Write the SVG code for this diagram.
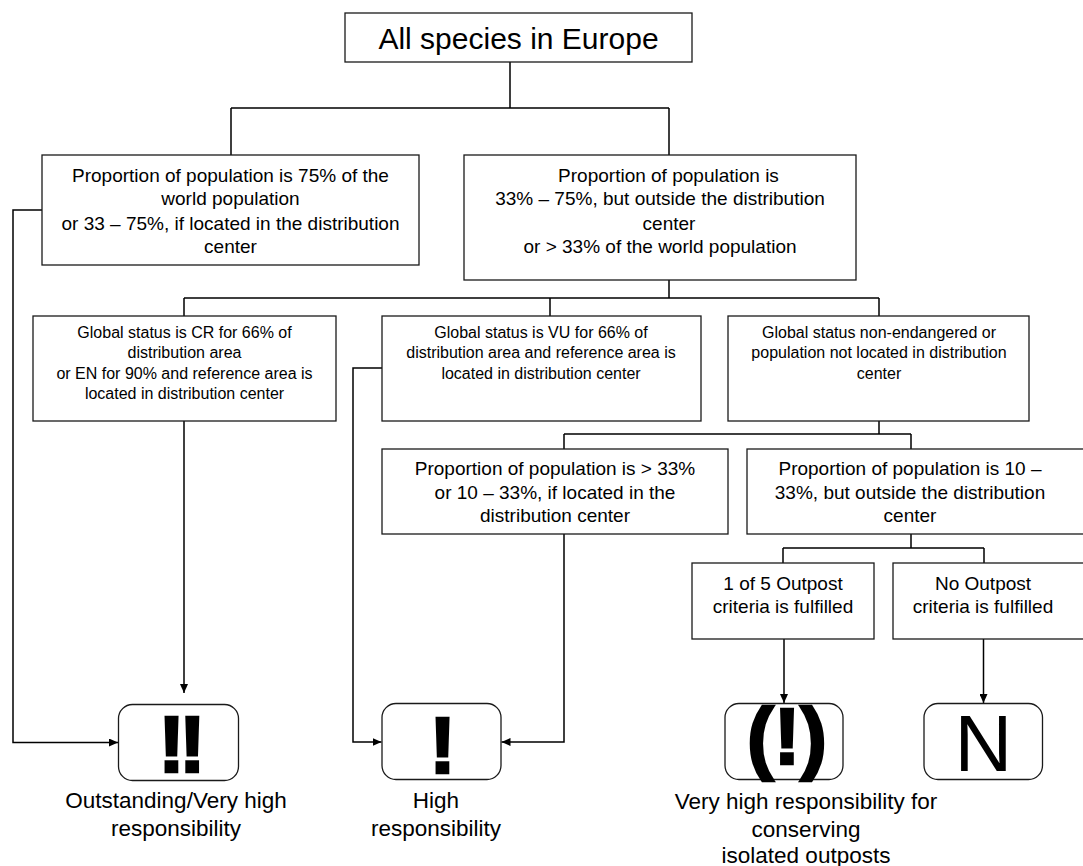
<svg xmlns="http://www.w3.org/2000/svg" width="1083" height="866" viewBox="0 0 1083 866">
<style>
.box{fill:#fff;stroke:#1a1a1a;stroke-width:1.3}
.rbox{fill:#fff;stroke:#1a1a1a;stroke-width:1.3}
.t19{font-family:"Liberation Sans",Arial,sans-serif;font-size:19px;fill:#000;text-anchor:middle}
.t16{font-family:"Liberation Sans",Arial,sans-serif;font-size:16px;fill:#000;text-anchor:middle}
.t30{font-family:"Liberation Sans",Arial,sans-serif;font-size:30px;fill:#000;text-anchor:middle}
.lab{font-family:"Liberation Sans",Arial,sans-serif;font-size:22.5px;fill:#000;text-anchor:middle}
.big{font-family:"Liberation Sans",Arial,sans-serif;font-size:80px;font-weight:bold;fill:#000;stroke:#000;stroke-width:2.5;text-anchor:middle}
.bigN{font-family:"Liberation Sans",Arial,sans-serif;font-size:80px;fill:#000;text-anchor:middle}
.c{fill:none;stroke:#000;stroke-width:1.5}
</style>
<defs>
<marker id="ah" markerWidth="10" markerHeight="8" refX="9" refY="4" orient="auto" markerUnits="userSpaceOnUse">
<path d="M0,0 L9,4 L0,8 Z" fill="#000"/>
</marker>
</defs>

<g id="connectors">
<path class="c" d="M510,62 V108 M231,108 H669 M231,108 V155 M669,108 V155"/>
<path class="c" d="M669,280 V298 M184,298 H879 M184,298 V316 M550,298 V316 M879,298 V316"/>
<path class="c" d="M879,421 V434 M564,434 H911 M564,434 V449 M911,434 V449"/>
<path class="c" d="M911,534 V548 M783,548 H984 M783,548 V563 M984,548 V563"/>
<path class="c" d="M42,210 H13 V742.5 H118" marker-end="url(#ah)"/>
<path class="c" d="M184,421 V693" marker-end="url(#ah)"/>
<path class="c" d="M382,368 H353 V742 H381.5" marker-end="url(#ah)"/>
<path class="c" d="M564,534 V742 H501.5" marker-end="url(#ah)"/>
<path class="c" d="M784,639 V703" marker-end="url(#ah)"/>
<path class="c" d="M983.5,639 V703" marker-end="url(#ah)"/>
</g>

<g id="n-top">
<rect class="box" x="345" y="13" width="347" height="49"/>
<text class="t30" x="518.5" y="49">All species in Europe</text>
</g>

<g id="n-l1">
<rect class="box" x="42" y="155" width="377" height="110"/>
<text class="t19" x="230.5" y="182">Proportion of population is 75% of the</text>
<text class="t19" x="230.5" y="205">world population</text>
<text class="t19" x="230.5" y="230">or 33 – 75%, if located in the distribution</text>
<text class="t19" x="230.5" y="253">center</text>
</g>

<g id="n-r1">
<rect class="box" x="464" y="155" width="392" height="125"/>
<text class="t19" x="668.5" y="182">Proportion of population is</text>
<text class="t19" x="660" y="205">33% – 75%, but outside the distribution</text>
<text class="t19" x="669" y="230">center</text>
<text class="t19" x="660" y="253">or &gt; 33% of the world population</text>
</g>

<g id="n-b1">
<rect class="box" x="33" y="316" width="303" height="105"/>
<text class="t16" x="184.5" y="338">Global status is CR for 66% of</text>
<text class="t16" x="184.5" y="358">distribution area</text>
<text class="t16" x="184.5" y="379">or EN for 90% and reference area is</text>
<text class="t16" x="184.5" y="399">located in distribution center</text>
</g>

<g id="n-b2">
<rect class="box" x="382" y="316" width="319" height="105"/>
<text class="t16" x="541" y="338">Global status is VU for 66% of</text>
<text class="t16" x="541" y="358">distribution area and reference area is</text>
<text class="t16" x="541" y="379">located in distribution center</text>
</g>

<g id="n-b3">
<rect class="box" x="728" y="316" width="301" height="105"/>
<text class="t16" x="879" y="338">Global status non-endangered or</text>
<text class="t16" x="879" y="358">population not located in distribution</text>
<text class="t16" x="879" y="379">center</text>
</g>

<g id="n-c1">
<rect class="box" x="382" y="449" width="346" height="85"/>
<text class="t19" x="555" y="475">Proportion of population is &gt; 33%</text>
<text class="t19" x="555" y="499">or 10 – 33%, if located in the</text>
<text class="t19" x="555" y="522">distribution center</text>
</g>

<g id="n-c2">
<rect class="box" x="747" y="449" width="350" height="85"/>
<text class="t19" x="910" y="475">Proportion of population is 10 –</text>
<text class="t19" x="910" y="499">33%, but outside the distribution</text>
<text class="t19" x="910" y="522">center</text>
</g>

<g id="n-d1">
<rect class="box" x="692" y="563" width="182" height="76"/>
<text class="t19" x="783" y="590">1 of 5 Outpost</text>
<text class="t19" x="783" y="613">criteria is fulfilled</text>
</g>

<g id="n-d2">
<rect class="box" x="893" y="563" width="200" height="76"/>
<text class="t19" x="983" y="590">No Outpost</text>
<text class="t19" x="983" y="613">criteria is fulfilled</text>
</g>

<g id="n-r-vh">
<rect class="rbox" x="118.5" y="704.5" width="120" height="76" rx="14" ry="14"/>
<text class="big" x="179" y="772" letter-spacing="-6">!!</text>
<text class="lab" x="176" y="808">Outstanding/Very high</text>
<text class="lab" x="176" y="836">responsibility</text>
</g>

<g id="n-r-h">
<rect class="rbox" x="382" y="703.5" width="119" height="76" rx="14" ry="14"/>
<text class="big" x="442.5" y="773">!</text>
<text class="lab" x="436" y="808">High</text>
<text class="lab" x="436" y="836">responsibility</text>
</g>

<g id="n-r-out">
<rect class="rbox" x="725" y="703.5" width="118" height="76" rx="14" ry="14"/>
<text class="big" x="787" y="764">(!)</text>
<text class="lab" x="806" y="809">Very high responsibility for</text>
<text class="lab" x="806" y="837">conserving</text>
<text class="lab" x="806" y="863">isolated outposts</text>
</g>

<g id="n-r-n">
<rect class="rbox" x="924" y="703.5" width="118.5" height="76" rx="14" ry="14"/>
<text class="bigN" x="983.5" y="771">N</text>
</g>
</svg>
